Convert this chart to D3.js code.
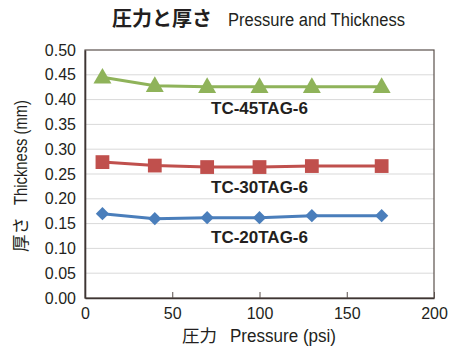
<!DOCTYPE html>
<html><head><meta charset="utf-8">
<script src="https://cdn.jsdelivr.net/npm/d3@7"></script>
<style>body{margin:0;background:#fff}svg{display:block}</style>
</head><body>
<script>
const pressure = [10, 40, 70, 100, 130, 170];
const seriesNames = ["TC-45TAG-6", "TC-30TAG-6", "TC-20TAG-6"];
const tc45 = [0.445, 0.428, 0.426, 0.426, 0.426, 0.426];
const tc30 = [0.274, 0.267, 0.264, 0.264, 0.266, 0.266];
const tc20 = [0.170, 0.160, 0.162, 0.162, 0.166, 0.166];
const xTicks = [0, 50, 100, 150, 200];
const yTicks = [0, 0.05, 0.10, 0.15, 0.20, 0.25, 0.30, 0.35, 0.40, 0.45, 0.50];
const labelPos = [[100, 0.38], [100, 0.22], [100, 0.12]];

const W = 449, H = 349;
const mL = 85, mR = 434, mT = 50, mB = 298;
const svg = d3.select("body").append("svg").attr("width", W).attr("height", H);
const x = d3.scaleLinear().domain([0, 200]).range([mL, mR]);
const y = d3.scaleLinear().domain([0, 0.5]).range([mB, mT]);
const font = "'Liberation Sans', Arial, sans-serif";
const cjk = "'Noto Sans CJK JP', sans-serif";

// gridlines
svg.append("g").selectAll("line").data(yTicks.slice(1, -1)).join("line")
  .attr("x1", mL).attr("x2", mR).attr("y1", d => y(d)).attr("y2", d => y(d))
  .attr("stroke", "#d9d9d9").attr("stroke-width", 1);

// frame
svg.append("rect").attr("x", mL).attr("y", mT).attr("width", mR - mL).attr("height", mB - mT)
  .attr("fill", "none").attr("stroke", "#5a504c").attr("stroke-width", 1.2);

// axes
const xAxis = svg.append("g").attr("transform", `translate(0,${mB})`)
  .call(d3.axisBottom(x).tickValues(xTicks).tickSizeInner(-6).tickSizeOuter(0).tickPadding(10).tickFormat(d3.format("d")));
xAxis.select(".domain").attr("stroke", "#3d3533").attr("stroke-width", 1.6);
xAxis.selectAll(".tick line").attr("stroke", "#5a504c");
xAxis.selectAll("text").attr("font-family", font).attr("font-size", 16).attr("fill", "#231f20");

const yAxis = svg.append("g").attr("transform", `translate(${mL},0)`)
  .call(d3.axisLeft(y).tickValues(yTicks).tickSize(0).tickPadding(9).tickFormat(d3.format(".2f")));
yAxis.select(".domain").attr("stroke", "#3d3533").attr("stroke-width", 1.6);
yAxis.selectAll("text").attr("font-family", font).attr("font-size", 16).attr("fill", "#231f20");

// series
const series = [
  {vals: tc45, color: "#8fb35a", shape: d3.symbolTriangle, size: 140, rot: 0, dy: 1},
  {vals: tc30, color: "#c0504d", shape: d3.symbolSquare, size: 190, rot: 0, dy: 0},
  {vals: tc20, color: "#4a7ebb", shape: d3.symbolSquare, size: 88, rot: 45, dy: 0},
];
const line = d3.line().x(d => x(d[0])).y(d => y(d[1]));
series.forEach((s, i) => {
  const pts = pressure.map((p, j) => [p, s.vals[j]]);
  svg.append("path").attr("d", line(pts)).attr("fill", "none").attr("stroke", s.color).attr("stroke-width", 3);
  svg.append("g").selectAll("path").data(pts).join("path")
    .attr("d", d3.symbol().type(s.shape).size(s.size))
    .attr("transform", d => `translate(${x(d[0])},${y(d[1]) + s.dy}) rotate(${s.rot})`)
    .attr("fill", s.color);
  svg.append("text").attr("x", x(labelPos[i][0])).attr("y", y(labelPos[i][1]))
    .attr("text-anchor", "middle").attr("dominant-baseline", "middle")
    .attr("font-family", font).attr("font-weight", "bold").attr("font-size", 17).attr("fill", "#231f20")
    .text(seriesNames[i]);
});

// title
const t = svg.append("text").attr("y", 26).attr("fill", "#231f20");
t.append("tspan").attr("x", 112).attr("font-family", cjk).attr("font-weight", "bold").attr("font-size", 20).text("圧力と厚さ");
t.append("tspan").attr("x", 228).attr("font-family", font).attr("font-size", 18)
  .attr("textLength", 177).attr("lengthAdjust", "spacingAndGlyphs").text("Pressure and Thickness");

// x label
const xl = svg.append("text").attr("y", 342).attr("fill", "#231f20");
xl.append("tspan").attr("x", 182).attr("font-family", cjk).attr("font-size", 17.5).text("圧力");
xl.append("tspan").attr("x", 230).attr("font-family", font).attr("font-size", 17.5)
  .attr("textLength", 106).attr("lengthAdjust", "spacingAndGlyphs").text("Pressure (psi)");

// y label
const yl = svg.append("text").attr("transform", "translate(27,252) rotate(-90)").attr("fill", "#231f20");
yl.append("tspan").attr("x", 0).attr("font-family", cjk).attr("font-size", 17.5).text("厚さ");
yl.append("tspan").attr("x", 47).attr("font-family", font).attr("font-size", 17.5)
  .attr("textLength", 105).attr("lengthAdjust", "spacingAndGlyphs").text("Thickness (mm)");
</script>
</body></html>
